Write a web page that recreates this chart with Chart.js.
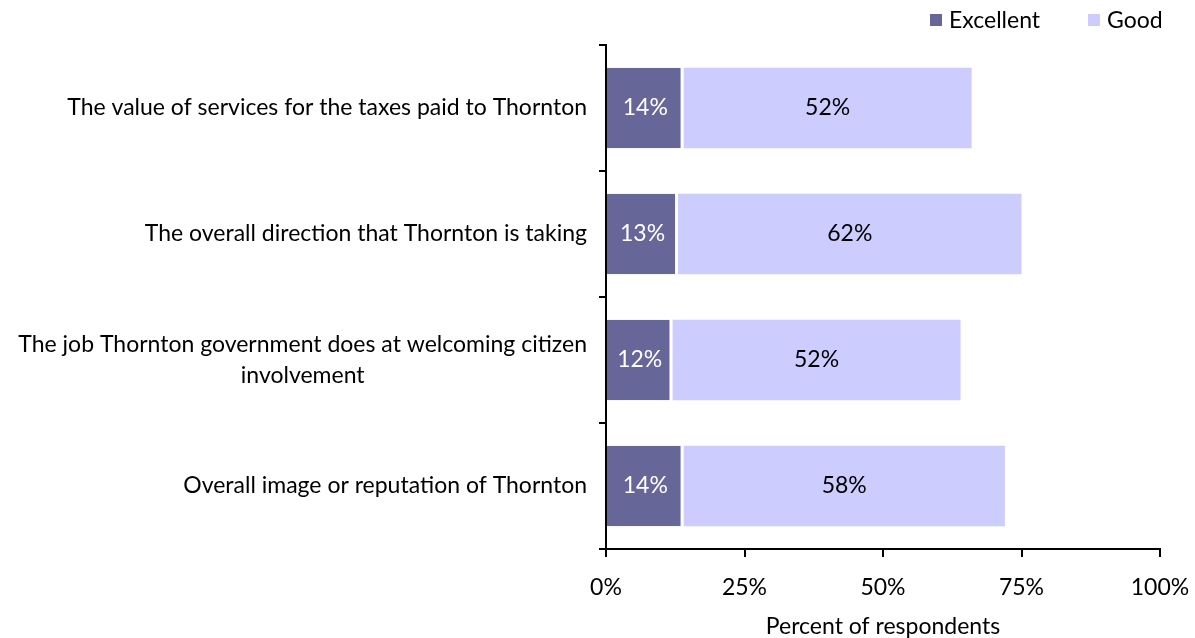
<!DOCTYPE html>
<html>
<head>
<meta charset="utf-8">
<script src="https://cdn.jsdelivr.net/npm/chart.js@4.4.0/dist/chart.umd.min.js"></script>
<style>
  html, body { margin: 0; padding: 0; background: #fff; }
  #wrap { width: 1195px; height: 638px; }
</style>
</head>
<body>
<div id="wrap"><canvas id="myChart" width="1195" height="638"></canvas></div>
<script>
// survey items, top to bottom
var categories = [
    ['The value of services for the taxes paid to Thornton'],
    ['The overall direction that Thornton is taking'],
    ['The job Thornton government does at welcoming citizen', 'involvement'],
    ['Overall image or reputation of Thornton']
];
var excellent = [14, 13, 12, 14];
var good = [52, 62, 52, 58];
var seriesNames = ['Excellent', 'Good'];
var seriesColors = ['#666699', '#ccccff'];
var xTicks = [0, 25, 50, 75, 100];

var FONT = 'Lato, "Open Sans", sans-serif';
var FS = 23;

// y labels are drawn by hand so the wrapped line can sit centred under the first
var yLabelPlugin = {
    id: 'yLabels',
    afterDraw: function(chart) {
        var ctx = chart.ctx;
        var y = chart.scales.y;
        ctx.save();
        ctx.font = FS + 'px ' + FONT;
        ctx.fillStyle = '#000';
        ctx.textBaseline = 'middle';
        categories.forEach(function(lines, i) {
            var cy = y.getPixelForValue(i);
            var right = y.right - 19;
            if (lines.length == 1) {
                ctx.textAlign = 'right';
                ctx.fillText(lines[0], right, cy);
            } else {
                var w = ctx.measureText(lines[0]).width;
                ctx.textAlign = 'right';
                ctx.fillText(lines[0], right, cy - 15);
                ctx.textAlign = 'center';
                ctx.fillText(lines[1], right - w / 2, cy + 16);
            }
        });
        ctx.restore();
    }
};

// percentages written inside each bar segment
var valueLabelPlugin = {
    id: 'valueLabels',
    afterDatasetsDraw: function(chart) {
        var ctx = chart.ctx;
        ctx.save();
        ctx.font = FS + 'px ' + FONT;
        ctx.textAlign = 'center';
        ctx.textBaseline = 'middle';
        chart.data.datasets.forEach(function(ds, di) {
            var meta = chart.getDatasetMeta(di);
            ctx.fillStyle = di == 0 ? '#ffffff' : '#000000';
            meta.data.forEach(function(bar, i) {
                var cx = (bar.x + bar.base) / 2;
                ctx.fillText(ds.data[i] + '%', cx, bar.y);
            });
        });
        ctx.restore();
    }
};

// small square legend in the top right corner
var legendPlugin = {
    id: 'cornerLegend',
    afterDraw: function(chart) {
        var ctx = chart.ctx;
        ctx.save();
        ctx.font = FS + 'px ' + FONT;
        ctx.textBaseline = 'middle';
        ctx.textAlign = 'left';
        var xs = [930, 1088];
        seriesNames.forEach(function(name, i) {
            ctx.fillStyle = seriesColors[i];
            ctx.fillRect(xs[i], 14, 12, 12);
            ctx.fillStyle = '#000';
            ctx.fillText(name, xs[i] + 19, 21);
        });
        ctx.restore();
    }
};

var ctx = document.getElementById('myChart').getContext('2d');

var myChart = new Chart(ctx, {
    type: 'bar',
    data: {
        labels: categories.map(function(c) { return c.join(' '); }),
        datasets: [
            { label: seriesNames[0], data: excellent, backgroundColor: seriesColors[0],
              borderColor: '#ffffff', borderWidth: { right: 3 }, borderSkipped: false },
            { label: seriesNames[1], data: good, backgroundColor: seriesColors[1],
              borderWidth: 0 }
        ]
    },
    options: {
        indexAxis: 'y',
        responsive: false,
        animation: false,
        barPercentage: 0.64,
        categoryPercentage: 1.0,
        layout: { padding: { top: 45, right: 35, left: 0, bottom: 0 } },
        plugins: {
            legend: { display: false },
            tooltip: { enabled: false }
        },
        scales: {
            x: {
                stacked: true,
                min: 0,
                max: 100,
                afterBuildTicks: function(scale) {
                    scale.ticks = xTicks.map(function(v) { return { value: v }; });
                },
                afterFit: function(scale) {
                    scale.height = 89;
                    // keep the last tick label from pulling the axis in
                    scale.paddingLeft = 0;
                    scale.paddingRight = 0;
                },
                border: { color: '#000', width: 2 },
                grid: { drawOnChartArea: false, drawTicks: true, tickLength: 8, color: '#000', lineWidth: 2 },
                ticks: {
                    color: '#000',
                    padding: 17,
                    maxRotation: 0,
                    font: { family: FONT, size: FS },
                    callback: function(v) { return v + '%'; }
                },
                title: {
                    display: true,
                    text: 'Percent of respondents',
                    color: '#000',
                    font: { family: FONT, size: FS },
                    padding: { top: 0, bottom: -2 }
                }
            },
            y: {
                stacked: true,
                afterFit: function(scale) { scale.width = 606; },
                border: { color: '#000', width: 2 },
                grid: { offset: true, drawOnChartArea: false, drawTicks: true, tickLength: 7, color: '#000', lineWidth: 2 },
                ticks: { display: false }
            }
        }
    },
    plugins: [yLabelPlugin, valueLabelPlugin, legendPlugin]
});
</script>
</body>
</html>
